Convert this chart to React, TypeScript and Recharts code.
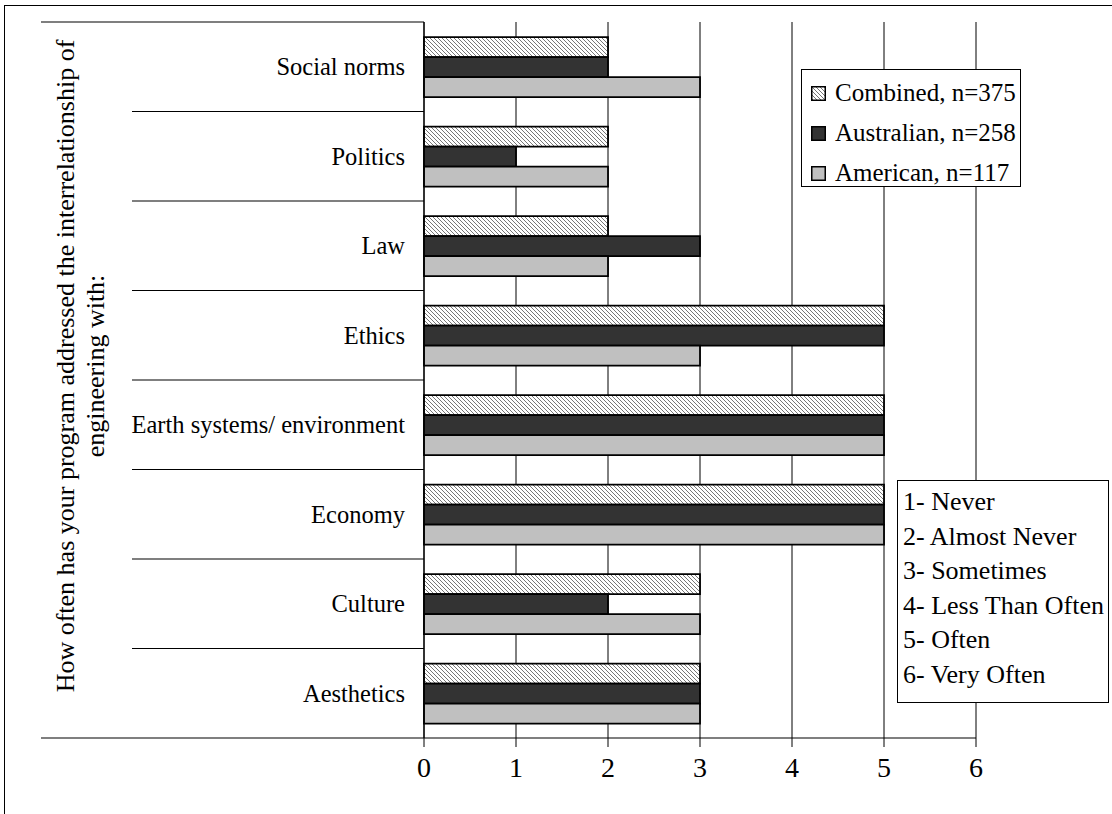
import React from "react";
import { BarChart, Bar, XAxis, YAxis, CartesianGrid } from "recharts";

const categories = [
  "Social norms",
  "Politics",
  "Law",
  "Ethics",
  "Earth systems/ environment",
  "Economy",
  "Culture",
  "Aesthetics",
];
const combined = [2, 2, 2, 5, 5, 5, 3, 3];
const australian = [2, 1, 3, 5, 5, 5, 2, 3];
const american = [3, 2, 2, 3, 5, 5, 3, 3];
const xTicks = [0, 1, 2, 3, 4, 5, 6];
const scaleLabels = [
  "1- Never",
  "2- Almost Never",
  "3- Sometimes",
  "4- Less Than Often",
  "5- Often",
  "6- Very Often",
];
const seriesNames = ["Combined, n=375", "Australian, n=258", "American, n=117"];

const data = categories.map((name, i) => ({
  name,
  combined: combined[i],
  australian: australian[i],
  american: american[i],
}));

const W = 1112;
const H = 814;
const PLOT_LEFT = 424;
const PLOT_RIGHT = 976;
const PLOT_TOP = 22;
const PLOT_BOTTOM = 738;
const FONT = "'Liberation Serif', 'Times New Roman', serif";
const DARK = "#333333";
const LIGHT = "#C0C0C0";

// category label plus the divider line above its band
function CategoryTick(props: any) {
  const { y, payload, index } = props;
  const band = (PLOT_BOTTOM - PLOT_TOP) / categories.length;
  const top = y - band / 2;
  const last = index === categories.length - 1;
  return (
    <g>
      <line x1={index === 0 ? 41 : 132} x2={PLOT_LEFT} y1={top} y2={top} stroke="#000" strokeWidth={1.2} />
      {last && (
        <line x1={41} x2={PLOT_LEFT} y1={top + band} y2={top + band} stroke="#000" strokeWidth={1.2} />
      )}
      <text x={405} y={y} textAnchor="end" dominantBaseline="central" fontFamily={FONT} fontSize={24.5} fill="#000">
        {payload.value}
      </text>
    </g>
  );
}

function ValueTick(props: any) {
  const { x, payload } = props;
  return (
    <text x={x} y={PLOT_BOTTOM + 29} textAnchor="middle" dominantBaseline="central" fontFamily={FONT} fontSize={28} fill="#000">
      {payload.value}
    </text>
  );
}

function Swatch({ fill }: { fill: string }) {
  return (
    <svg width={15} height={15} style={{ display: "block" }}>
      <defs>
        <pattern id="hatchSwatch" patternUnits="userSpaceOnUse" width={4} height={4}>
          <rect width={4} height={4} fill="#fff" />
          <path d="M0,0 L4,4 M-1,3 L1,5 M3,-1 L5,1" stroke="#777" strokeWidth={1} />
        </pattern>
      </defs>
      <rect x={0.75} y={0.75} width={13.5} height={13.5} fill={fill === "hatch" ? "url(#hatchSwatch)" : fill} stroke="#000" strokeWidth={1.5} />
    </svg>
  );
}

export default function App() {
  const swatches = ["hatch", DARK, LIGHT];
  return (
    <div style={{ position: "absolute", left: 0, top: 0, width: W, height: H, overflow: "hidden", background: "#fff", fontFamily: FONT }}>
      <div style={{ position: "absolute", left: 4, top: 5, width: W + 50, height: H + 50, border: "1.5px solid #000" }} />
      <BarChart
        width={W}
        height={H}
        data={data}
        layout="vertical"
        margin={{ top: PLOT_TOP, right: W - PLOT_RIGHT, bottom: H - PLOT_BOTTOM - 30, left: 0 }}
        barCategoryGap="17%"
        barGap={0}
      >
        <defs>
          <pattern id="hatch" patternUnits="userSpaceOnUse" width={4} height={4}>
            <rect width={4} height={4} fill="#fff" />
            <path d="M0,0 L4,4 M-1,3 L1,5 M3,-1 L5,1" stroke="#777" strokeWidth={1} />
          </pattern>
        </defs>
        <CartesianGrid horizontal={false} stroke="#000" strokeWidth={1} />
        <XAxis
          type="number"
          domain={[0, 6]}
          ticks={xTicks}
          height={30}
          axisLine={{ stroke: "#000", strokeWidth: 1.2 }}
          tickLine={{ stroke: "#000" }}
          tickSize={9}
          tick={<ValueTick />}
          interval={0}
        />
        <YAxis
          type="category"
          dataKey="name"
          width={PLOT_LEFT}
          axisLine={{ stroke: "#000", strokeWidth: 1.2 }}
          tickLine={false}
          tick={<CategoryTick />}
          interval={0}
        />
        <Bar dataKey="combined" fill="url(#hatch)" stroke="#000" strokeWidth={1.8} isAnimationActive={false} />
        <Bar dataKey="australian" fill={DARK} stroke="#000" strokeWidth={1.8} isAnimationActive={false} />
        <Bar dataKey="american" fill={LIGHT} stroke="#000" strokeWidth={1.8} isAnimationActive={false} />
      </BarChart>

      {/* y-axis title */}
      <div
        style={{
          position: "absolute",
          left: 86 - 360,
          top: 366 - 35,
          width: 720,
          height: 70,
          transform: "rotate(-90deg)",
          textAlign: "center",
          fontSize: 26,
          lineHeight: "30px",
          color: "#000",
        }}
      >
        How often has your program addressed the interrelationship of
        <br />
        engineering with:
      </div>

      {/* series legend */}
      <div
        style={{
          position: "absolute",
          left: 801,
          top: 69,
          width: 218,
          height: 116,
          border: "1.5px solid #000",
          background: "#fff",
        }}
      >
        {seriesNames.map((s, i) => (
          <div key={s} style={{ position: "absolute", left: 9, top: 8 + i * 40, height: 30, display: "flex", alignItems: "center", gap: 9, fontSize: 25, whiteSpace: "nowrap" }}>
            <Swatch fill={swatches[i]} />
            <span>{s}</span>
          </div>
        ))}
      </div>

      {/* rating scale key */}
      <div
        style={{
          position: "absolute",
          left: 897,
          top: 480,
          width: 210,
          height: 221,
          border: "1.5px solid #000",
          background: "#fff",
        }}
      >
        {scaleLabels.map((s, i) => (
          <div key={s} style={{ position: "absolute", left: 5, top: 6 + i * 34.6, height: 30, lineHeight: "30px", fontSize: 26, whiteSpace: "nowrap" }}>
            {s}
          </div>
        ))}
      </div>
    </div>
  );
}
